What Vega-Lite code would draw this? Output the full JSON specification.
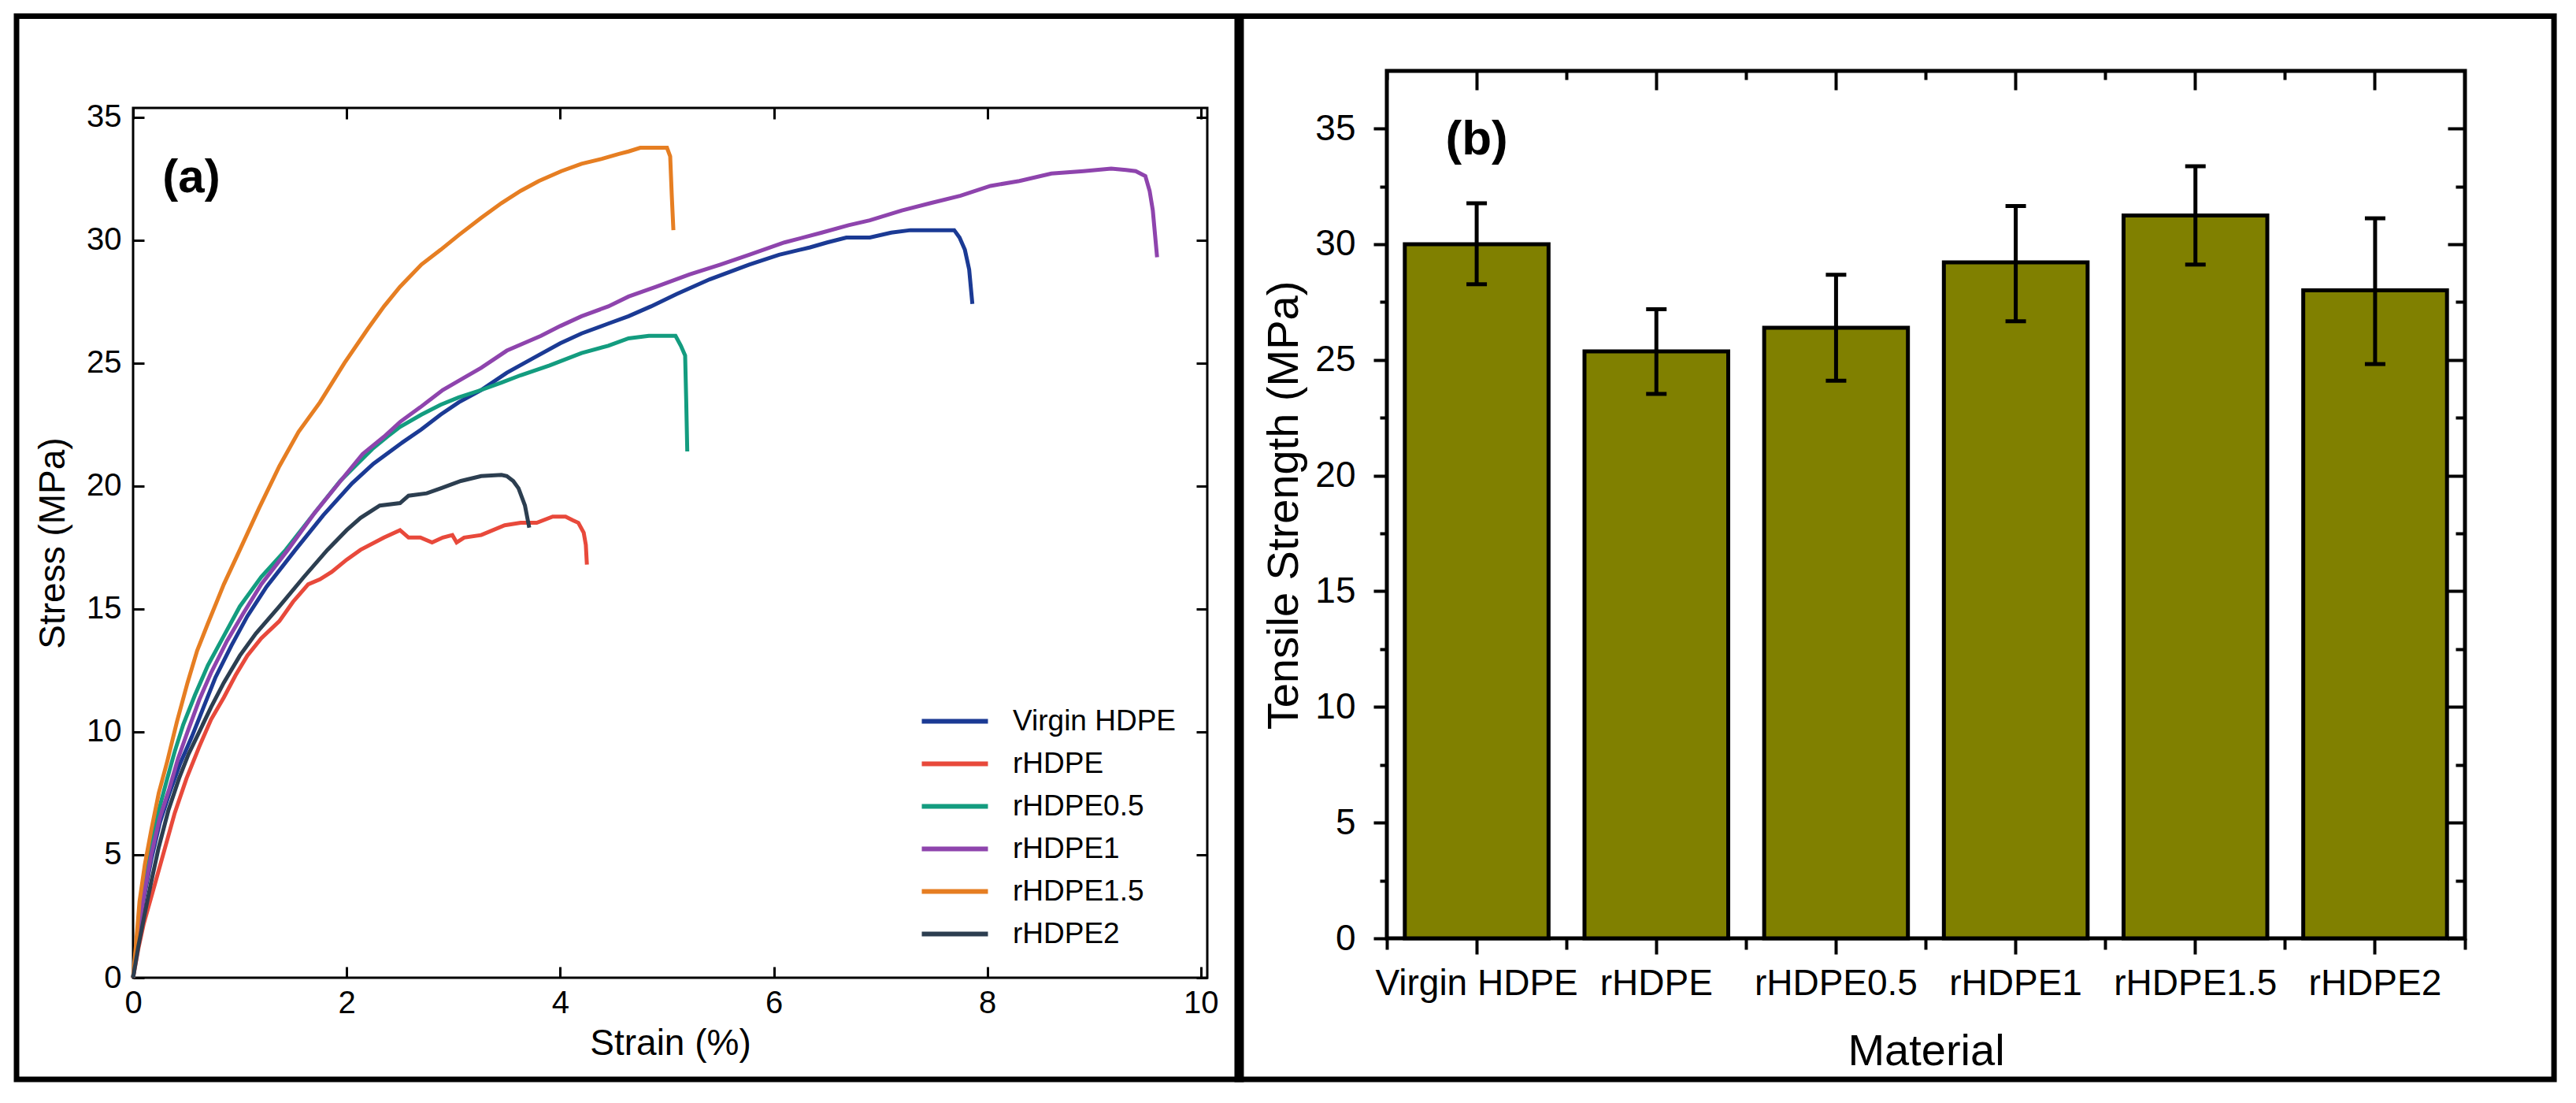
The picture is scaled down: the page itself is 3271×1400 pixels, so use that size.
{
  "$schema": "https://vega.github.io/schema/vega-lite/v6.json",
  "background": "white",
  "padding": {"left": 16, "top": 15, "right": 0, "bottom": 0},
  "spacing": -14,
  "config": {
    "font": "Liberation Sans",
    "axis": {
      "grid": false,
      "domain": false,
      "labelColor": "black",
      "titleColor": "black",
      "tickColor": "black",
      "titleFontWeight": "normal",
      "labelFlush": false,
      "labelOverlap": false,
      "labelLimit": 600,
      "labelFont": "Liberation Sans",
      "titleFont": "Liberation Sans"
    },
    "legend": {"labelFont": "Liberation Sans", "labelColor": "black"}
  },
  "hconcat": [
    {
      "width": 1364,
      "height": 1104,
      "view": {"stroke": "black", "strokeWidth": 3},
      "resolve": {"scale": {"x": "independent", "y": "independent"}},
      "layer": [
        {
          "data": {"values": [{}]},
          "mark": {"type": "rect", "fill": "white", "fillOpacity": 0, "stroke": "black", "strokeWidth": 7},
          "encoding": {
            "x": {"datum": -0.1085, "type": "quantitative", "scale": {"domain": [0, 1], "nice": false, "zero": false}, "axis": null},
            "x2": {"datum": 1.0315},
            "y": {"datum": -0.1168, "type": "quantitative", "scale": {"domain": [0, 1], "nice": false, "zero": false}, "axis": null},
            "y2": {"datum": 1.1055}
          }
        },
        {
          "resolve": {"axis": {"x": "independent", "y": "independent"}},
          "layer": [
            {
              "data": {"values": [
                {"material": "Virgin HDPE", "strain": 0, "stress": 0},
                {"material": "Virgin HDPE", "strain": 0.04, "stress": 1.5},
                {"material": "Virgin HDPE", "strain": 0.1, "stress": 3.2},
                {"material": "Virgin HDPE", "strain": 0.17, "stress": 4.8},
                {"material": "Virgin HDPE", "strain": 0.25, "stress": 6.3},
                {"material": "Virgin HDPE", "strain": 0.34, "stress": 7.5},
                {"material": "Virgin HDPE", "strain": 0.44, "stress": 8.7},
                {"material": "Virgin HDPE", "strain": 0.55, "stress": 9.8},
                {"material": "Virgin HDPE", "strain": 0.66, "stress": 11.0},
                {"material": "Virgin HDPE", "strain": 0.77, "stress": 12.2},
                {"material": "Virgin HDPE", "strain": 0.92, "stress": 13.5},
                {"material": "Virgin HDPE", "strain": 1.07, "stress": 14.7},
                {"material": "Virgin HDPE", "strain": 1.25, "stress": 15.9},
                {"material": "Virgin HDPE", "strain": 1.52, "stress": 17.4},
                {"material": "Virgin HDPE", "strain": 1.78, "stress": 18.8},
                {"material": "Virgin HDPE", "strain": 2.05, "stress": 20.1},
                {"material": "Virgin HDPE", "strain": 2.25, "stress": 20.9},
                {"material": "Virgin HDPE", "strain": 2.5, "stress": 21.7},
                {"material": "Virgin HDPE", "strain": 2.7, "stress": 22.3},
                {"material": "Virgin HDPE", "strain": 2.88, "stress": 22.9},
                {"material": "Virgin HDPE", "strain": 3.05, "stress": 23.4},
                {"material": "Virgin HDPE", "strain": 3.26, "stress": 23.9},
                {"material": "Virgin HDPE", "strain": 3.5, "stress": 24.6},
                {"material": "Virgin HDPE", "strain": 3.75, "stress": 25.2},
                {"material": "Virgin HDPE", "strain": 4.0, "stress": 25.8},
                {"material": "Virgin HDPE", "strain": 4.2, "stress": 26.2},
                {"material": "Virgin HDPE", "strain": 4.45, "stress": 26.6},
                {"material": "Virgin HDPE", "strain": 4.64, "stress": 26.9},
                {"material": "Virgin HDPE", "strain": 4.85, "stress": 27.3},
                {"material": "Virgin HDPE", "strain": 5.09, "stress": 27.8},
                {"material": "Virgin HDPE", "strain": 5.4, "stress": 28.4},
                {"material": "Virgin HDPE", "strain": 5.77, "stress": 29.0},
                {"material": "Virgin HDPE", "strain": 6.05, "stress": 29.4},
                {"material": "Virgin HDPE", "strain": 6.34, "stress": 29.7},
                {"material": "Virgin HDPE", "strain": 6.5, "stress": 29.9},
                {"material": "Virgin HDPE", "strain": 6.68, "stress": 30.1},
                {"material": "Virgin HDPE", "strain": 6.9, "stress": 30.1},
                {"material": "Virgin HDPE", "strain": 7.1, "stress": 30.3},
                {"material": "Virgin HDPE", "strain": 7.28, "stress": 30.4},
                {"material": "Virgin HDPE", "strain": 7.5, "stress": 30.4},
                {"material": "Virgin HDPE", "strain": 7.69, "stress": 30.4},
                {"material": "Virgin HDPE", "strain": 7.74, "stress": 30.1},
                {"material": "Virgin HDPE", "strain": 7.79, "stress": 29.6},
                {"material": "Virgin HDPE", "strain": 7.83, "stress": 28.8},
                {"material": "Virgin HDPE", "strain": 7.86, "stress": 27.4},

                {"material": "rHDPE", "strain": 0, "stress": 0},
                {"material": "rHDPE", "strain": 0.05, "stress": 1.2},
                {"material": "rHDPE", "strain": 0.1, "stress": 2.2},
                {"material": "rHDPE", "strain": 0.21, "stress": 3.9},
                {"material": "rHDPE", "strain": 0.3, "stress": 5.3},
                {"material": "rHDPE", "strain": 0.39, "stress": 6.7},
                {"material": "rHDPE", "strain": 0.5, "stress": 8.1},
                {"material": "rHDPE", "strain": 0.62, "stress": 9.4},
                {"material": "rHDPE", "strain": 0.73, "stress": 10.5},
                {"material": "rHDPE", "strain": 0.85, "stress": 11.4},
                {"material": "rHDPE", "strain": 0.96, "stress": 12.3},
                {"material": "rHDPE", "strain": 1.07, "stress": 13.1},
                {"material": "rHDPE", "strain": 1.2, "stress": 13.8},
                {"material": "rHDPE", "strain": 1.37, "stress": 14.5},
                {"material": "rHDPE", "strain": 1.5, "stress": 15.3},
                {"material": "rHDPE", "strain": 1.64, "stress": 16.0},
                {"material": "rHDPE", "strain": 1.75, "stress": 16.2},
                {"material": "rHDPE", "strain": 1.86, "stress": 16.5},
                {"material": "rHDPE", "strain": 2.0, "stress": 17.0},
                {"material": "rHDPE", "strain": 2.13, "stress": 17.4},
                {"material": "rHDPE", "strain": 2.35, "stress": 17.9},
                {"material": "rHDPE", "strain": 2.5, "stress": 18.2},
                {"material": "rHDPE", "strain": 2.58, "stress": 17.9},
                {"material": "rHDPE", "strain": 2.69, "stress": 17.9},
                {"material": "rHDPE", "strain": 2.8, "stress": 17.7},
                {"material": "rHDPE", "strain": 2.9, "stress": 17.9},
                {"material": "rHDPE", "strain": 2.99, "stress": 18.0},
                {"material": "rHDPE", "strain": 3.03, "stress": 17.7},
                {"material": "rHDPE", "strain": 3.1, "stress": 17.9},
                {"material": "rHDPE", "strain": 3.26, "stress": 18.0},
                {"material": "rHDPE", "strain": 3.48, "stress": 18.4},
                {"material": "rHDPE", "strain": 3.63, "stress": 18.5},
                {"material": "rHDPE", "strain": 3.78, "stress": 18.5},
                {"material": "rHDPE", "strain": 3.93, "stress": 18.75},
                {"material": "rHDPE", "strain": 4.05, "stress": 18.75},
                {"material": "rHDPE", "strain": 4.12, "stress": 18.6},
                {"material": "rHDPE", "strain": 4.17, "stress": 18.5},
                {"material": "rHDPE", "strain": 4.22, "stress": 18.1},
                {"material": "rHDPE", "strain": 4.24, "stress": 17.6},
                {"material": "rHDPE", "strain": 4.25, "stress": 16.8},

                {"material": "rHDPE0.5", "strain": 0, "stress": 0},
                {"material": "rHDPE0.5", "strain": 0.04, "stress": 1.7},
                {"material": "rHDPE0.5", "strain": 0.1, "stress": 3.5},
                {"material": "rHDPE0.5", "strain": 0.17, "stress": 5.3},
                {"material": "rHDPE0.5", "strain": 0.24, "stress": 6.8},
                {"material": "rHDPE0.5", "strain": 0.32, "stress": 8.1},
                {"material": "rHDPE0.5", "strain": 0.39, "stress": 9.2},
                {"material": "rHDPE0.5", "strain": 0.47, "stress": 10.3},
                {"material": "rHDPE0.5", "strain": 0.58, "stress": 11.5},
                {"material": "rHDPE0.5", "strain": 0.7, "stress": 12.7},
                {"material": "rHDPE0.5", "strain": 0.85, "stress": 13.9},
                {"material": "rHDPE0.5", "strain": 1.0, "stress": 15.1},
                {"material": "rHDPE0.5", "strain": 1.2, "stress": 16.3},
                {"material": "rHDPE0.5", "strain": 1.43, "stress": 17.4},
                {"material": "rHDPE0.5", "strain": 1.7, "stress": 18.9},
                {"material": "rHDPE0.5", "strain": 1.94, "stress": 20.2},
                {"material": "rHDPE0.5", "strain": 2.1, "stress": 20.9},
                {"material": "rHDPE0.5", "strain": 2.24, "stress": 21.5},
                {"material": "rHDPE0.5", "strain": 2.38, "stress": 22.0},
                {"material": "rHDPE0.5", "strain": 2.5, "stress": 22.4},
                {"material": "rHDPE0.5", "strain": 2.7, "stress": 22.9},
                {"material": "rHDPE0.5", "strain": 2.88, "stress": 23.3},
                {"material": "rHDPE0.5", "strain": 3.05, "stress": 23.6},
                {"material": "rHDPE0.5", "strain": 3.26, "stress": 23.9},
                {"material": "rHDPE0.5", "strain": 3.45, "stress": 24.2},
                {"material": "rHDPE0.5", "strain": 3.63, "stress": 24.5},
                {"material": "rHDPE0.5", "strain": 3.9, "stress": 24.9},
                {"material": "rHDPE0.5", "strain": 4.2, "stress": 25.4},
                {"material": "rHDPE0.5", "strain": 4.45, "stress": 25.7},
                {"material": "rHDPE0.5", "strain": 4.64, "stress": 26.0},
                {"material": "rHDPE0.5", "strain": 4.83, "stress": 26.1},
                {"material": "rHDPE0.5", "strain": 5.0, "stress": 26.1},
                {"material": "rHDPE0.5", "strain": 5.08, "stress": 26.1},
                {"material": "rHDPE0.5", "strain": 5.13, "stress": 25.7},
                {"material": "rHDPE0.5", "strain": 5.17, "stress": 25.3},
                {"material": "rHDPE0.5", "strain": 5.18, "stress": 23.5},
                {"material": "rHDPE0.5", "strain": 5.19, "stress": 21.4},

                {"material": "rHDPE1", "strain": 0, "stress": 0},
                {"material": "rHDPE1", "strain": 0.04, "stress": 1.6},
                {"material": "rHDPE1", "strain": 0.1, "stress": 3.3},
                {"material": "rHDPE1", "strain": 0.17, "stress": 5.0},
                {"material": "rHDPE1", "strain": 0.25, "stress": 6.5},
                {"material": "rHDPE1", "strain": 0.34, "stress": 7.7},
                {"material": "rHDPE1", "strain": 0.42, "stress": 8.9},
                {"material": "rHDPE1", "strain": 0.51, "stress": 10.0},
                {"material": "rHDPE1", "strain": 0.62, "stress": 11.3},
                {"material": "rHDPE1", "strain": 0.73, "stress": 12.4},
                {"material": "rHDPE1", "strain": 0.88, "stress": 13.7},
                {"material": "rHDPE1", "strain": 1.03, "stress": 14.8},
                {"material": "rHDPE1", "strain": 1.2, "stress": 16.0},
                {"material": "rHDPE1", "strain": 1.45, "stress": 17.4},
                {"material": "rHDPE1", "strain": 1.7, "stress": 18.9},
                {"material": "rHDPE1", "strain": 1.98, "stress": 20.4},
                {"material": "rHDPE1", "strain": 2.15, "stress": 21.3},
                {"material": "rHDPE1", "strain": 2.35, "stress": 22.0},
                {"material": "rHDPE1", "strain": 2.5, "stress": 22.6},
                {"material": "rHDPE1", "strain": 2.69, "stress": 23.2},
                {"material": "rHDPE1", "strain": 2.9, "stress": 23.9},
                {"material": "rHDPE1", "strain": 3.1, "stress": 24.4},
                {"material": "rHDPE1", "strain": 3.26, "stress": 24.8},
                {"material": "rHDPE1", "strain": 3.5, "stress": 25.5},
                {"material": "rHDPE1", "strain": 3.82, "stress": 26.1},
                {"material": "rHDPE1", "strain": 4.0, "stress": 26.5},
                {"material": "rHDPE1", "strain": 4.2, "stress": 26.9},
                {"material": "rHDPE1", "strain": 4.45, "stress": 27.3},
                {"material": "rHDPE1", "strain": 4.64, "stress": 27.7},
                {"material": "rHDPE1", "strain": 4.9, "stress": 28.1},
                {"material": "rHDPE1", "strain": 5.21, "stress": 28.6},
                {"material": "rHDPE1", "strain": 5.5, "stress": 29.0},
                {"material": "rHDPE1", "strain": 5.77, "stress": 29.4},
                {"material": "rHDPE1", "strain": 6.1, "stress": 29.9},
                {"material": "rHDPE1", "strain": 6.45, "stress": 30.3},
                {"material": "rHDPE1", "strain": 6.7, "stress": 30.6},
                {"material": "rHDPE1", "strain": 6.9, "stress": 30.8},
                {"material": "rHDPE1", "strain": 7.2, "stress": 31.2},
                {"material": "rHDPE1", "strain": 7.47, "stress": 31.5},
                {"material": "rHDPE1", "strain": 7.75, "stress": 31.8},
                {"material": "rHDPE1", "strain": 8.03, "stress": 32.2},
                {"material": "rHDPE1", "strain": 8.3, "stress": 32.4},
                {"material": "rHDPE1", "strain": 8.6, "stress": 32.7},
                {"material": "rHDPE1", "strain": 8.9, "stress": 32.8},
                {"material": "rHDPE1", "strain": 9.16, "stress": 32.9},
                {"material": "rHDPE1", "strain": 9.3, "stress": 32.85},
                {"material": "rHDPE1", "strain": 9.39, "stress": 32.8},
                {"material": "rHDPE1", "strain": 9.48, "stress": 32.6},
                {"material": "rHDPE1", "strain": 9.52, "stress": 32.0},
                {"material": "rHDPE1", "strain": 9.55, "stress": 31.2},
                {"material": "rHDPE1", "strain": 9.59, "stress": 29.3},

                {"material": "rHDPE1.5", "strain": 0, "stress": 0},
                {"material": "rHDPE1.5", "strain": 0.03, "stress": 1.5},
                {"material": "rHDPE1.5", "strain": 0.06, "stress": 3.1},
                {"material": "rHDPE1.5", "strain": 0.11, "stress": 4.6},
                {"material": "rHDPE1.5", "strain": 0.17, "stress": 6.0},
                {"material": "rHDPE1.5", "strain": 0.24, "stress": 7.5},
                {"material": "rHDPE1.5", "strain": 0.32, "stress": 8.8},
                {"material": "rHDPE1.5", "strain": 0.41, "stress": 10.4},
                {"material": "rHDPE1.5", "strain": 0.51, "stress": 12.0},
                {"material": "rHDPE1.5", "strain": 0.6, "stress": 13.3},
                {"material": "rHDPE1.5", "strain": 0.7, "stress": 14.4},
                {"material": "rHDPE1.5", "strain": 0.85, "stress": 16.0},
                {"material": "rHDPE1.5", "strain": 1.0, "stress": 17.4},
                {"material": "rHDPE1.5", "strain": 1.18, "stress": 19.1},
                {"material": "rHDPE1.5", "strain": 1.37, "stress": 20.8},
                {"material": "rHDPE1.5", "strain": 1.55, "stress": 22.2},
                {"material": "rHDPE1.5", "strain": 1.75, "stress": 23.4},
                {"material": "rHDPE1.5", "strain": 1.98, "stress": 25.0},
                {"material": "rHDPE1.5", "strain": 2.2, "stress": 26.4},
                {"material": "rHDPE1.5", "strain": 2.35, "stress": 27.3},
                {"material": "rHDPE1.5", "strain": 2.5, "stress": 28.1},
                {"material": "rHDPE1.5", "strain": 2.7, "stress": 29.0},
                {"material": "rHDPE1.5", "strain": 2.88, "stress": 29.6},
                {"material": "rHDPE1.5", "strain": 3.05, "stress": 30.2},
                {"material": "rHDPE1.5", "strain": 3.26, "stress": 30.9},
                {"material": "rHDPE1.5", "strain": 3.45, "stress": 31.5},
                {"material": "rHDPE1.5", "strain": 3.63, "stress": 32.0},
                {"material": "rHDPE1.5", "strain": 3.8, "stress": 32.4},
                {"material": "rHDPE1.5", "strain": 4.01, "stress": 32.8},
                {"material": "rHDPE1.5", "strain": 4.2, "stress": 33.1},
                {"material": "rHDPE1.5", "strain": 4.39, "stress": 33.3},
                {"material": "rHDPE1.5", "strain": 4.55, "stress": 33.5},
                {"material": "rHDPE1.5", "strain": 4.64, "stress": 33.6},
                {"material": "rHDPE1.5", "strain": 4.75, "stress": 33.75},
                {"material": "rHDPE1.5", "strain": 4.9, "stress": 33.75},
                {"material": "rHDPE1.5", "strain": 5.0, "stress": 33.75},
                {"material": "rHDPE1.5", "strain": 5.03, "stress": 33.4},
                {"material": "rHDPE1.5", "strain": 5.045, "stress": 31.8},
                {"material": "rHDPE1.5", "strain": 5.06, "stress": 30.4},

                {"material": "rHDPE2", "strain": 0, "stress": 0},
                {"material": "rHDPE2", "strain": 0.05, "stress": 1.3},
                {"material": "rHDPE2", "strain": 0.1, "stress": 2.4},
                {"material": "rHDPE2", "strain": 0.17, "stress": 3.9},
                {"material": "rHDPE2", "strain": 0.24, "stress": 5.3},
                {"material": "rHDPE2", "strain": 0.33, "stress": 6.8},
                {"material": "rHDPE2", "strain": 0.43, "stress": 8.1},
                {"material": "rHDPE2", "strain": 0.52, "stress": 9.1},
                {"material": "rHDPE2", "strain": 0.62, "stress": 10.0},
                {"material": "rHDPE2", "strain": 0.73, "stress": 11.0},
                {"material": "rHDPE2", "strain": 0.85, "stress": 12.0},
                {"material": "rHDPE2", "strain": 1.0, "stress": 13.1},
                {"material": "rHDPE2", "strain": 1.15, "stress": 14.0},
                {"material": "rHDPE2", "strain": 1.37, "stress": 15.1},
                {"material": "rHDPE2", "strain": 1.6, "stress": 16.3},
                {"material": "rHDPE2", "strain": 1.82, "stress": 17.4},
                {"material": "rHDPE2", "strain": 2.0, "stress": 18.2},
                {"material": "rHDPE2", "strain": 2.13, "stress": 18.7},
                {"material": "rHDPE2", "strain": 2.31, "stress": 19.2},
                {"material": "rHDPE2", "strain": 2.5, "stress": 19.3},
                {"material": "rHDPE2", "strain": 2.58, "stress": 19.6},
                {"material": "rHDPE2", "strain": 2.75, "stress": 19.7},
                {"material": "rHDPE2", "strain": 2.88, "stress": 19.9},
                {"material": "rHDPE2", "strain": 3.07, "stress": 20.2},
                {"material": "rHDPE2", "strain": 3.26, "stress": 20.4},
                {"material": "rHDPE2", "strain": 3.45, "stress": 20.45},
                {"material": "rHDPE2", "strain": 3.5, "stress": 20.4},
                {"material": "rHDPE2", "strain": 3.56, "stress": 20.2},
                {"material": "rHDPE2", "strain": 3.61, "stress": 19.9},
                {"material": "rHDPE2", "strain": 3.67, "stress": 19.2},
                {"material": "rHDPE2", "strain": 3.71, "stress": 18.3}
              ]},
              "mark": {"type": "line", "strokeWidth": 5},
              "encoding": {
                "x": {
                  "field": "strain",
                  "type": "quantitative",
                  "scale": {"domain": [0, 10.06], "nice": false, "zero": false},
                  "axis": {
                    "orient": "bottom",
                    "values": [0, 2, 4, 6, 8, 10],
                    "format": "d",
                    "tickSize": -14,
                    "tickWidth": 3,
                    "labelFontSize": 40,
                    "labelPadding": 26,
                    "title": "Strain (%)",
                    "titleFontSize": 46,
                    "titlePadding": 9
                  }
                },
                "y": {
                  "field": "stress",
                  "type": "quantitative",
                  "scale": {"domain": [0, 35.37], "nice": false, "zero": false},
                  "axis": {
                    "orient": "left",
                    "values": [0, 5, 10, 15, 20, 25, 30, 35],
                    "format": "d",
                    "tickSize": -14,
                    "tickWidth": 3,
                    "labelFontSize": 40,
                    "labelPadding": 29,
                    "title": "Stress (MPa)",
                    "titleFontSize": 46,
                    "titlePadding": 18
                  }
                },
                "color": {
                  "field": "material",
                  "type": "nominal",
                  "scale": {
                    "domain": ["Virgin HDPE", "rHDPE", "rHDPE0.5", "rHDPE1", "rHDPE1.5", "rHDPE2"],
                    "range": ["#1b3a94", "#e8493b", "#139c7f", "#8e44ad", "#e67e22", "#2c3e50"]
                  },
                  "legend": {
                    "orient": "none",
                    "legendX": 1025,
                    "legendY": 760,
                    "title": null,
                    "padding": 0,
                    "symbolType": "M-3,0H3",
                    "symbolSize": 784,
                    "symbolStrokeWidth": 6,
                    "labelFontSize": 37,
                    "labelOffset": 55,
                    "labelLimit": 600,
                    "rowPadding": 16
                  }
                }
              }
            },
            {
              "data": {"values": [{}]},
              "mark": {"type": "text", "text": "(a)", "fontSize": 60, "fontWeight": "bold", "align": "center", "baseline": "middle", "color": "black"},
              "encoding": {
                "x": {
                  "datum": 0.546,
                  "type": "quantitative",
                  "scale": {"domain": [0, 10.06], "nice": false, "zero": false},
                  "axis": {"orient": "top", "values": [0, 2, 4, 6, 8, 10], "tickSize": -14, "tickWidth": 3, "labels": false, "title": null}
                },
                "y": {
                  "datum": 32.53,
                  "type": "quantitative",
                  "scale": {"domain": [0, 35.37], "nice": false, "zero": false},
                  "axis": {"orient": "right", "values": [0, 5, 10, 15, 20, 25, 30, 35], "tickSize": -14, "tickWidth": 3, "labels": false, "title": null}
                }
              }
            }
          ]
        }
      ]
    },
    {
      "width": 1369,
      "height": 1054,
      "view": {"stroke": null},
      "resolve": {"scale": {"x": "independent", "y": "independent"}},
      "layer": [
        {
          "data": {"values": [{}]},
          "layer": [
            {
              "mark": {"type": "rect", "fill": "white", "fillOpacity": 0, "stroke": "black", "strokeWidth": 7},
              "encoding": {
                "x": {"datum": -0.1388, "type": "quantitative", "scale": {"domain": [0, 1], "nice": false, "zero": false}, "axis": null},
                "x2": {"datum": 1.0826},
                "y": {"datum": -0.1698, "type": "quantitative", "scale": {"domain": [0, 1], "nice": false, "zero": false}, "axis": null},
                "y2": {"datum": 1.1105}
              }
            },
            {
              "mark": {"type": "rect", "fill": "white", "fillOpacity": 0, "stroke": "black", "strokeWidth": 5},
              "encoding": {
                "x": {"datum": 0, "type": "quantitative", "scale": {"domain": [0, 1], "nice": false, "zero": false}, "axis": null},
                "x2": {"datum": 1},
                "y": {"datum": 0, "type": "quantitative", "scale": {"domain": [0, 1], "nice": false, "zero": false}, "axis": null},
                "y2": {"datum": 1.0446}
              }
            }
          ]
        },
        {
          "data": {"values": [
            {"material": "Virgin HDPE", "strength": 30.0, "lo": 28.27, "hi": 31.77},
            {"material": "rHDPE", "strength": 25.37, "lo": 23.53, "hi": 27.19},
            {"material": "rHDPE0.5", "strength": 26.39, "lo": 24.1, "hi": 28.68},
            {"material": "rHDPE1", "strength": 29.22, "lo": 26.67, "hi": 31.65},
            {"material": "rHDPE1.5", "strength": 31.24, "lo": 29.12, "hi": 33.37},
            {"material": "rHDPE2", "strength": 28.01, "lo": 24.82, "hi": 31.12}
          ]},
          "resolve": {"axis": {"x": "independent", "y": "independent"}},
          "layer": [
            {
              "mark": {"type": "bar", "fill": "#808000", "stroke": "black", "strokeWidth": 5},
              "encoding": {
                "x": {
                  "field": "material",
                  "type": "nominal",
                  "sort": null,
                  "scale": {"paddingInner": 0.2, "paddingOuter": 0.1},
                  "axis": {
                    "orient": "bottom",
                    "labelAngle": 0,
                    "tickSize": 20,
                    "tickWidth": 4,
                    "labelFontSize": 46,
                    "labelPadding": 15,
                    "title": "Material",
                    "titleFontSize": 56,
                    "titlePadding": 36
                  }
                },
                "y": {
                  "field": "strength",
                  "type": "quantitative",
                  "scale": {"domain": [0, 35.89], "nice": false, "zero": false},
                  "axis": {
                    "orient": "left",
                    "values": [0, 5, 10, 15, 20, 25, 30, 35],
                    "format": "d",
                    "tickSize": 17,
                    "tickWidth": 4,
                    "labelFontSize": 46,
                    "labelPadding": 23,
                    "title": "Tensile Strength (MPa)",
                    "titleFontSize": 56,
                    "titlePadding": 10,
                    "titleY": 504
                  }
                }
              }
            },
            {
              "mark": {"type": "rule", "strokeWidth": 5, "color": "black"},
              "encoding": {
                "x": {
                  "field": "material",
                  "type": "nominal",
                  "sort": null,
                  "axis": {"orient": "top", "offset": 47, "tickSize": -24, "tickWidth": 4, "labels": false, "title": null}
                },
                "y": {
                  "field": "lo",
                  "type": "quantitative",
                  "axis": {"orient": "right", "values": [0, 5, 10, 15, 20, 25, 30, 35], "tickSize": -22, "tickWidth": 4, "labels": false, "title": null}
                },
                "y2": {"field": "hi"}
              }
            },
            {
              "mark": {"type": "tick", "orient": "horizontal", "size": 26, "thickness": 5, "color": "black", "opacity": 1},
              "encoding": {
                "x": {
                  "field": "material",
                  "type": "nominal",
                  "sort": null,
                  "axis": {"orient": "bottom", "bandPosition": -0.125, "tickSize": 14, "tickWidth": 4, "labels": false, "title": null}
                },
                "y": {
                  "field": "hi",
                  "type": "quantitative",
                  "axis": {"orient": "left", "values": [2.5, 7.5, 12.5, 17.5, 22.5, 27.5, 32.5], "tickSize": 9, "tickWidth": 4, "labels": false, "title": null}
                }
              }
            },
            {
              "mark": {"type": "tick", "orient": "horizontal", "size": 26, "thickness": 5, "color": "black", "opacity": 1},
              "encoding": {
                "x": {
                  "field": "material",
                  "type": "nominal",
                  "sort": null,
                  "axis": {"orient": "top", "offset": 47, "bandPosition": -0.125, "tickSize": -11, "tickWidth": 4, "labels": false, "title": null}
                },
                "y": {
                  "field": "lo",
                  "type": "quantitative",
                  "axis": {"orient": "right", "values": [2.5, 7.5, 12.5, 17.5, 22.5, 27.5, 32.5], "tickSize": -12, "tickWidth": 4, "labels": false, "title": null}
                }
              }
            },
            {
              "data": {"values": [{}]},
              "mark": {"type": "text", "text": "(b)", "fontSize": 62, "fontWeight": "bold", "align": "center", "baseline": "middle", "color": "black"},
              "encoding": {
                "x": {
                  "datum": "Virgin HDPE",
                  "type": "nominal",
                  "axis": {"orient": "bottom", "values": ["rHDPE2"], "bandPosition": 1.125, "tickSize": 14, "tickWidth": 4, "labels": false, "title": null}
                },
                "y": {"datum": 34.52, "type": "quantitative", "axis": null}
              }
            }
          ]
        }
      ]
    }
  ]
}
